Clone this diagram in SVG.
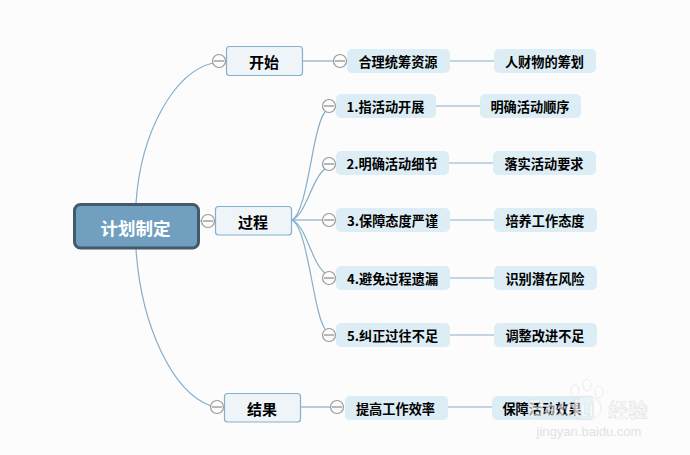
<svg xmlns="http://www.w3.org/2000/svg" width="690" height="455" viewBox="0 0 690 455">
<style>
text{font-family:"Noto Sans CJK SC","Liberation Sans",sans-serif;text-anchor:middle;dominant-baseline:central;fill:#000}
.c{fill:none;stroke:#85aecb;stroke-width:1.2}
.b{fill:#eef4f8;stroke:#84afce;stroke-width:1.2}
.b+text{font-size:15px;font-weight:700}
.s{fill:#dcedf5}
.s+text{font-size:13.200px;font-weight:700}
.t circle{fill:#fcfcfc;stroke:#9a9a9a;stroke-width:1.2}
.t path{stroke:#8a8a8a;stroke-width:1.2}
.wm{fill:#fff;fill-opacity:.6;stroke:#cfcfcf;stroke-opacity:.55;stroke-width:.7;font-weight:700}
</style>
<defs><g id="tg" class="t"><circle r="6.5"/><path d="M-5 0H5"/></g></defs>
<rect width="690" height="455" fill="#fcfcfc"/>
<g id="connectors">
<path class="c" d="M136 203C141 130 175 72 213 63"/>
<path class="c" d="M136 249C141 325 172 392 211 406"/>
<path class="c" d="M199 221H202"/>
<path class="c" d="M303 61H334"/>
<path class="c" d="M450 61H494"/>
<path class="c" d="M292 220C308 212 312 128 325 112"/>
<path class="c" d="M292 220C306 215 312 178 325 169"/>
<path class="c" d="M292 220H323"/>
<path class="c" d="M292 220C306 225 312 264 325 273"/>
<path class="c" d="M292 220C308 228 313 312 325 329"/>
<path class="c" d="M436 106H480"/>
<path class="c" d="M449 163H493"/>
<path class="c" d="M450 220H494"/>
<path class="c" d="M450 278H494"/>
<path class="c" d="M450 335H494"/>
<path class="c" d="M301 407H331"/>
<path class="c" d="M448 407H492"/>
</g>
<g id="root"><rect x="74.500" y="204.500" width="124" height="43.500" rx="6" fill="#709fbf" stroke="#43596c" stroke-width="3"/><text x="135.500" y="227" font-size="17.500" font-weight="700" style="fill:#fff">计划制定</text></g>
<g id="n-start"><rect class="b" x="226.500" y="46.500" width="76" height="29" rx="3"/><text x="264" y="61">开始</text><use href="#tg" x="219" y="61"/></g>
<g id="n-process"><rect class="b" x="215.500" y="206.500" width="76" height="28.500" rx="3"/><text x="253" y="221">过程</text><use href="#tg" x="208" y="221"/></g>
<g id="n-result"><rect class="b" x="224.500" y="393.500" width="76" height="28.500" rx="3"/><text x="262" y="408">结果</text><use href="#tg" x="217" y="407"/></g>
<g id="n-a1"><rect class="s" x="347" y="49" width="103" height="24" rx="5"/><text x="398" y="61">合理统筹资源</text><use href="#tg" x="340" y="61"/></g>
<g id="n-a2"><rect class="s" x="494" y="49" width="102" height="24" rx="5"/><text x="544.500" y="61">人财物的筹划</text></g>
<g id="n-b1"><rect class="s" x="336" y="94" width="100" height="24" rx="5"/><text x="385.500" y="106">1.指活动开展</text><use href="#tg" x="329" y="106"/></g>
<g id="n-b1r"><rect class="s" x="480" y="94" width="101" height="24" rx="5"/><text x="530" y="106">明确活动顺序</text></g>
<g id="n-b2"><rect class="s" x="336" y="151" width="113" height="24" rx="5"/><text x="392" y="163">2.明确活动细节</text><use href="#tg" x="329" y="164"/></g>
<g id="n-b2r"><rect class="s" x="493" y="151" width="103" height="24" rx="5"/><text x="544" y="163">落实活动要求</text></g>
<g id="n-b3"><rect class="s" x="336" y="208" width="114" height="24" rx="5"/><text x="392.500" y="220">3.保障态度严谨</text><use href="#tg" x="329" y="220"/></g>
<g id="n-b3r"><rect class="s" x="494" y="208" width="103" height="24" rx="5"/><text x="545" y="220">培养工作态度</text></g>
<g id="n-b4"><rect class="s" x="336" y="266" width="114" height="24" rx="5"/><text x="392.500" y="278">4.避免过程遗漏</text><use href="#tg" x="329" y="278"/></g>
<g id="n-b4r"><rect class="s" x="494" y="266" width="103" height="24" rx="5"/><text x="545" y="278">识别潜在风险</text></g>
<g id="n-b5"><rect class="s" x="336" y="323" width="114" height="24" rx="5"/><text x="392.500" y="335">5.纠正过往不足</text><use href="#tg" x="329" y="335"/></g>
<g id="n-b5r"><rect class="s" x="494" y="323" width="103" height="24" rx="5"/><text x="545" y="335">调整改进不足</text></g>
<g id="n-c1"><rect class="s" x="345" y="396" width="103" height="24" rx="5"/><text x="395.500" y="408">提高工作效率</text><use href="#tg" x="337" y="407"/></g>
<g id="n-c2"><rect class="s" x="492" y="396" width="102" height="24" rx="5"/><text x="542" y="408">保障活动效果</text></g>
<g id="watermark">
<ellipse class="wm" cx="587" cy="408" rx="14" ry="12" style="fill-opacity:.35"/>
<ellipse class="wm" cx="575" cy="391" rx="4" ry="6" style="fill-opacity:.35"/>
<ellipse class="wm" cx="587" cy="385" rx="4" ry="6" style="fill-opacity:.35"/>
<ellipse class="wm" cx="599" cy="392" rx="4" ry="6" style="fill-opacity:.35"/>
<text class="wm" x="561" y="408" font-size="24" style="font-family:'Liberation Sans',sans-serif">Baidu</text>
<text class="wm" x="628" y="409" font-size="20" style="font-weight:500">经验</text>
<text x="589" y="431" font-size="13" style="font-family:'Liberation Sans',sans-serif;fill:#e2e2e2">jingyan.baidu.com</text>
</g>
</svg>
